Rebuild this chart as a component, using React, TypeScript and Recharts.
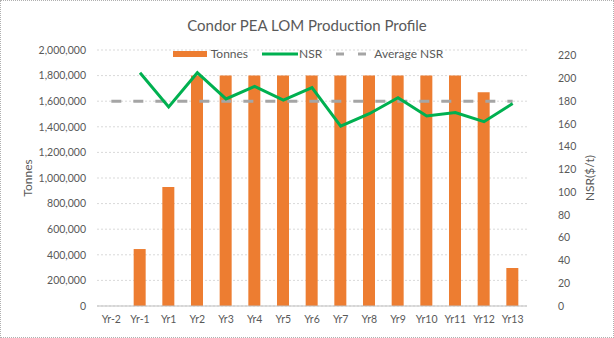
import { Bar, CartesianGrid, ComposedChart, Legend, Line, XAxis, YAxis } from "recharts"

const years = ["Yr-2", "Yr-1", "Yr1", "Yr2", "Yr3", "Yr4", "Yr5", "Yr6", "Yr7", "Yr8", "Yr9", "Yr10", "Yr11", "Yr12", "Yr13"]
const tonnes = [0, 445000, 930000, 1800000, 1800000, 1800000, 1800000, 1800000, 1800000, 1800000, 1800000, 1800000, 1800000, 1670000, 297000]
const nsr = [null, 205, 175, 205, 182, 193, 181, 192, 158, 169, 183, 167, 170, 162, 178]
const averageNsr = [180, 180, 180, 180, 180, 180, 180, 180, 180, 180, 180, 180, 180, 180, 180]
const tonnesTicks = [0, 200000, 400000, 600000, 800000, 1000000, 1200000, 1400000, 1600000, 1800000, 2000000]
const nsrTicks = [0, 20, 40, 60, 80, 100, 120, 140, 160, 180, 200, 220]

const data = years.map((year, i) => ({
  year,
  tonnes: tonnes[i],
  nsr: nsr[i],
  avg: averageNsr[i],
}))

const font = "Lato, 'Noto Sans', sans-serif"
const textColor = "#595959"

function LegendBox() {
  const item = { display: "flex", alignItems: "center", gap: 4, marginRight: 14 }
  return (
    <div style={{ display: "flex", justifyContent: "center", fontFamily: font, fontSize: 12, color: textColor, paddingLeft: 16 }}>
      <div style={item}>
        <div style={{ width: 34, height: 6, background: "#ED7D31" }} />
        <span>Tonnes</span>
      </div>
      <div style={item}>
        <svg width={36} height={6}>
          <line x1={0} y1={3} x2={36} y2={3} stroke="#00B050" strokeWidth={3} />
        </svg>
        <span style={{ marginLeft: -3 }}>NSR</span>
      </div>
      <div style={item}>
        <svg width={34} height={6}>
          <line x1={0} y1={3} x2={34} y2={3} stroke="#A5A5A5" strokeWidth={3} strokeDasharray="8 14" />
        </svg>
        <span>Average NSR</span>
      </div>
    </div>
  )
}

export default function App() {
  return (
    <div
      style={{
        position: "absolute",
        left: 0,
        top: 0,
        width: 614,
        height: 338,
        boxSizing: "border-box",
        border: "1px dotted #b0b0b0",
        background: "#fff",
      }}
    >
      <div
        style={{
          position: "absolute",
          top: 15,
          left: 0,
          width: 612,
          textAlign: "center",
          fontFamily: font,
          fontSize: 15,
          color: textColor,
        }}
      >
        Condor PEA LOM Production Profile
      </div>
      <ComposedChart width={612} height={336} data={data} margin={{ top: 49, right: 0, bottom: 0, left: 0 }}>
        <CartesianGrid yAxisId="left" vertical={false} stroke="#d9d9d9" strokeDasharray="2 2" />
        <XAxis
          dataKey="year"
          height={31}
          tickSize={0}
          tickMargin={10}
          axisLine={{ stroke: "#bfbfbf" }}
          tick={{ fill: textColor, fontSize: 10.5, fontFamily: font }}
          interval={0}
        />
        <YAxis
          yAxisId="left"
          width={96}
          domain={[0, 2000000]}
          ticks={tonnesTicks}
          axisLine={false}
          tickSize={0}
          tickMargin={11}
          tickFormatter={(v) => v.toLocaleString("en-US")}
          tick={{ fill: textColor, fontSize: 10.5, fontFamily: font }}
          label={{
            value: "Tonnes",
            angle: -90,
            position: "insideLeft",
            offset: 27,
            style: { textAnchor: "middle", fill: textColor, fontSize: 12, fontFamily: font },
          }}
        />
        <YAxis
          yAxisId="right"
          orientation="right"
          width={86}
          domain={[0, 225]}
          ticks={nsrTicks}
          axisLine={false}
          tickSize={0}
          tickMargin={31}
          tick={{ fill: textColor, fontSize: 10.5, fontFamily: font, textAnchor: "start" }}
          label={{
            value: "NSR($/t)",
            angle: -90,
            position: "insideRight",
            offset: 23,
            style: { textAnchor: "middle", fill: textColor, fontSize: 12, fontFamily: font },
          }}
        />
        <Legend
          layout="horizontal"
          verticalAlign="middle"
          align="center"
          content={() => <LegendBox />}
          wrapperStyle={{ top: 45, left: 0, width: 612 }}
        />
        <Bar yAxisId="left" dataKey="tonnes" fill="#ED7D31" barSize={12} isAnimationActive={false} />
        <Line
          yAxisId="right"
          dataKey="avg"
          stroke="#A5A5A5"
          strokeWidth={3}
          strokeDasharray="10 12"
          dot={false}
          isAnimationActive={false}
        />
        <Line
          yAxisId="right"
          dataKey="nsr"
          stroke="#00B050"
          strokeWidth={3}
          dot={false}
          isAnimationActive={false}
        />
      </ComposedChart>
    </div>
  )
}
